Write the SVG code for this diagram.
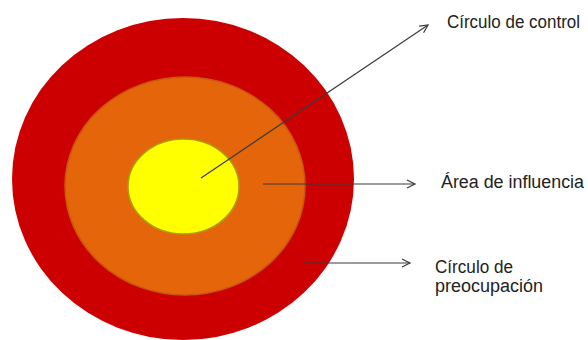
<svg xmlns="http://www.w3.org/2000/svg" width="588" height="340" viewBox="0 0 588 340">
  <style>
    .lbl { font-family: "Liberation Sans", Arial, sans-serif; font-size: 18px; fill: #222222; }
    .conn { stroke: #3a3a3a; stroke-width: 1.2; fill: none; marker-end: url(#arr); }
  </style>
  <defs>
    <marker id="arr" markerUnits="userSpaceOnUse" markerWidth="12" markerHeight="12" refX="9" refY="5" orient="auto">
      <path d="M1,1 L9,5 L1,9" fill="none" stroke="#3a3a3a" stroke-width="1.2"/>
    </marker>
  </defs>
  <rect width="588" height="340" fill="#ffffff"/>
  <g id="circulo-preocupacion">
    <ellipse cx="183" cy="179" rx="171" ry="161" fill="#CC0000"/>
  </g>
  <g id="area-influencia">
    <ellipse cx="185" cy="186" rx="120" ry="109" fill="#E5660A" stroke="#C8580E" stroke-width="1.5"/>
  </g>
  <g id="circulo-control">
    <ellipse cx="183.5" cy="186.5" rx="55.5" ry="47.5" fill="#FFFF00" stroke="#B09A10" stroke-width="1.5"/>
  </g>
  <g id="connectors">
    <line class="conn" x1="201" y1="178" x2="428" y2="25"/>
    <line class="conn" x1="263" y1="184" x2="415" y2="184"/>
    <line class="conn" x1="303" y1="263" x2="410" y2="263"/>
  </g>
  <g id="labels">
    <text class="lbl" x="447" y="28" textLength="133" lengthAdjust="spacingAndGlyphs">Círculo de control</text>
    <text class="lbl" x="441" y="188" textLength="143" lengthAdjust="spacingAndGlyphs">Área de influencia</text>
    <text class="lbl" x="435" y="273" textLength="78" lengthAdjust="spacingAndGlyphs">Círculo de</text>
    <text class="lbl" x="435" y="292" textLength="108" lengthAdjust="spacingAndGlyphs">preocupación</text>
  </g>
</svg>
